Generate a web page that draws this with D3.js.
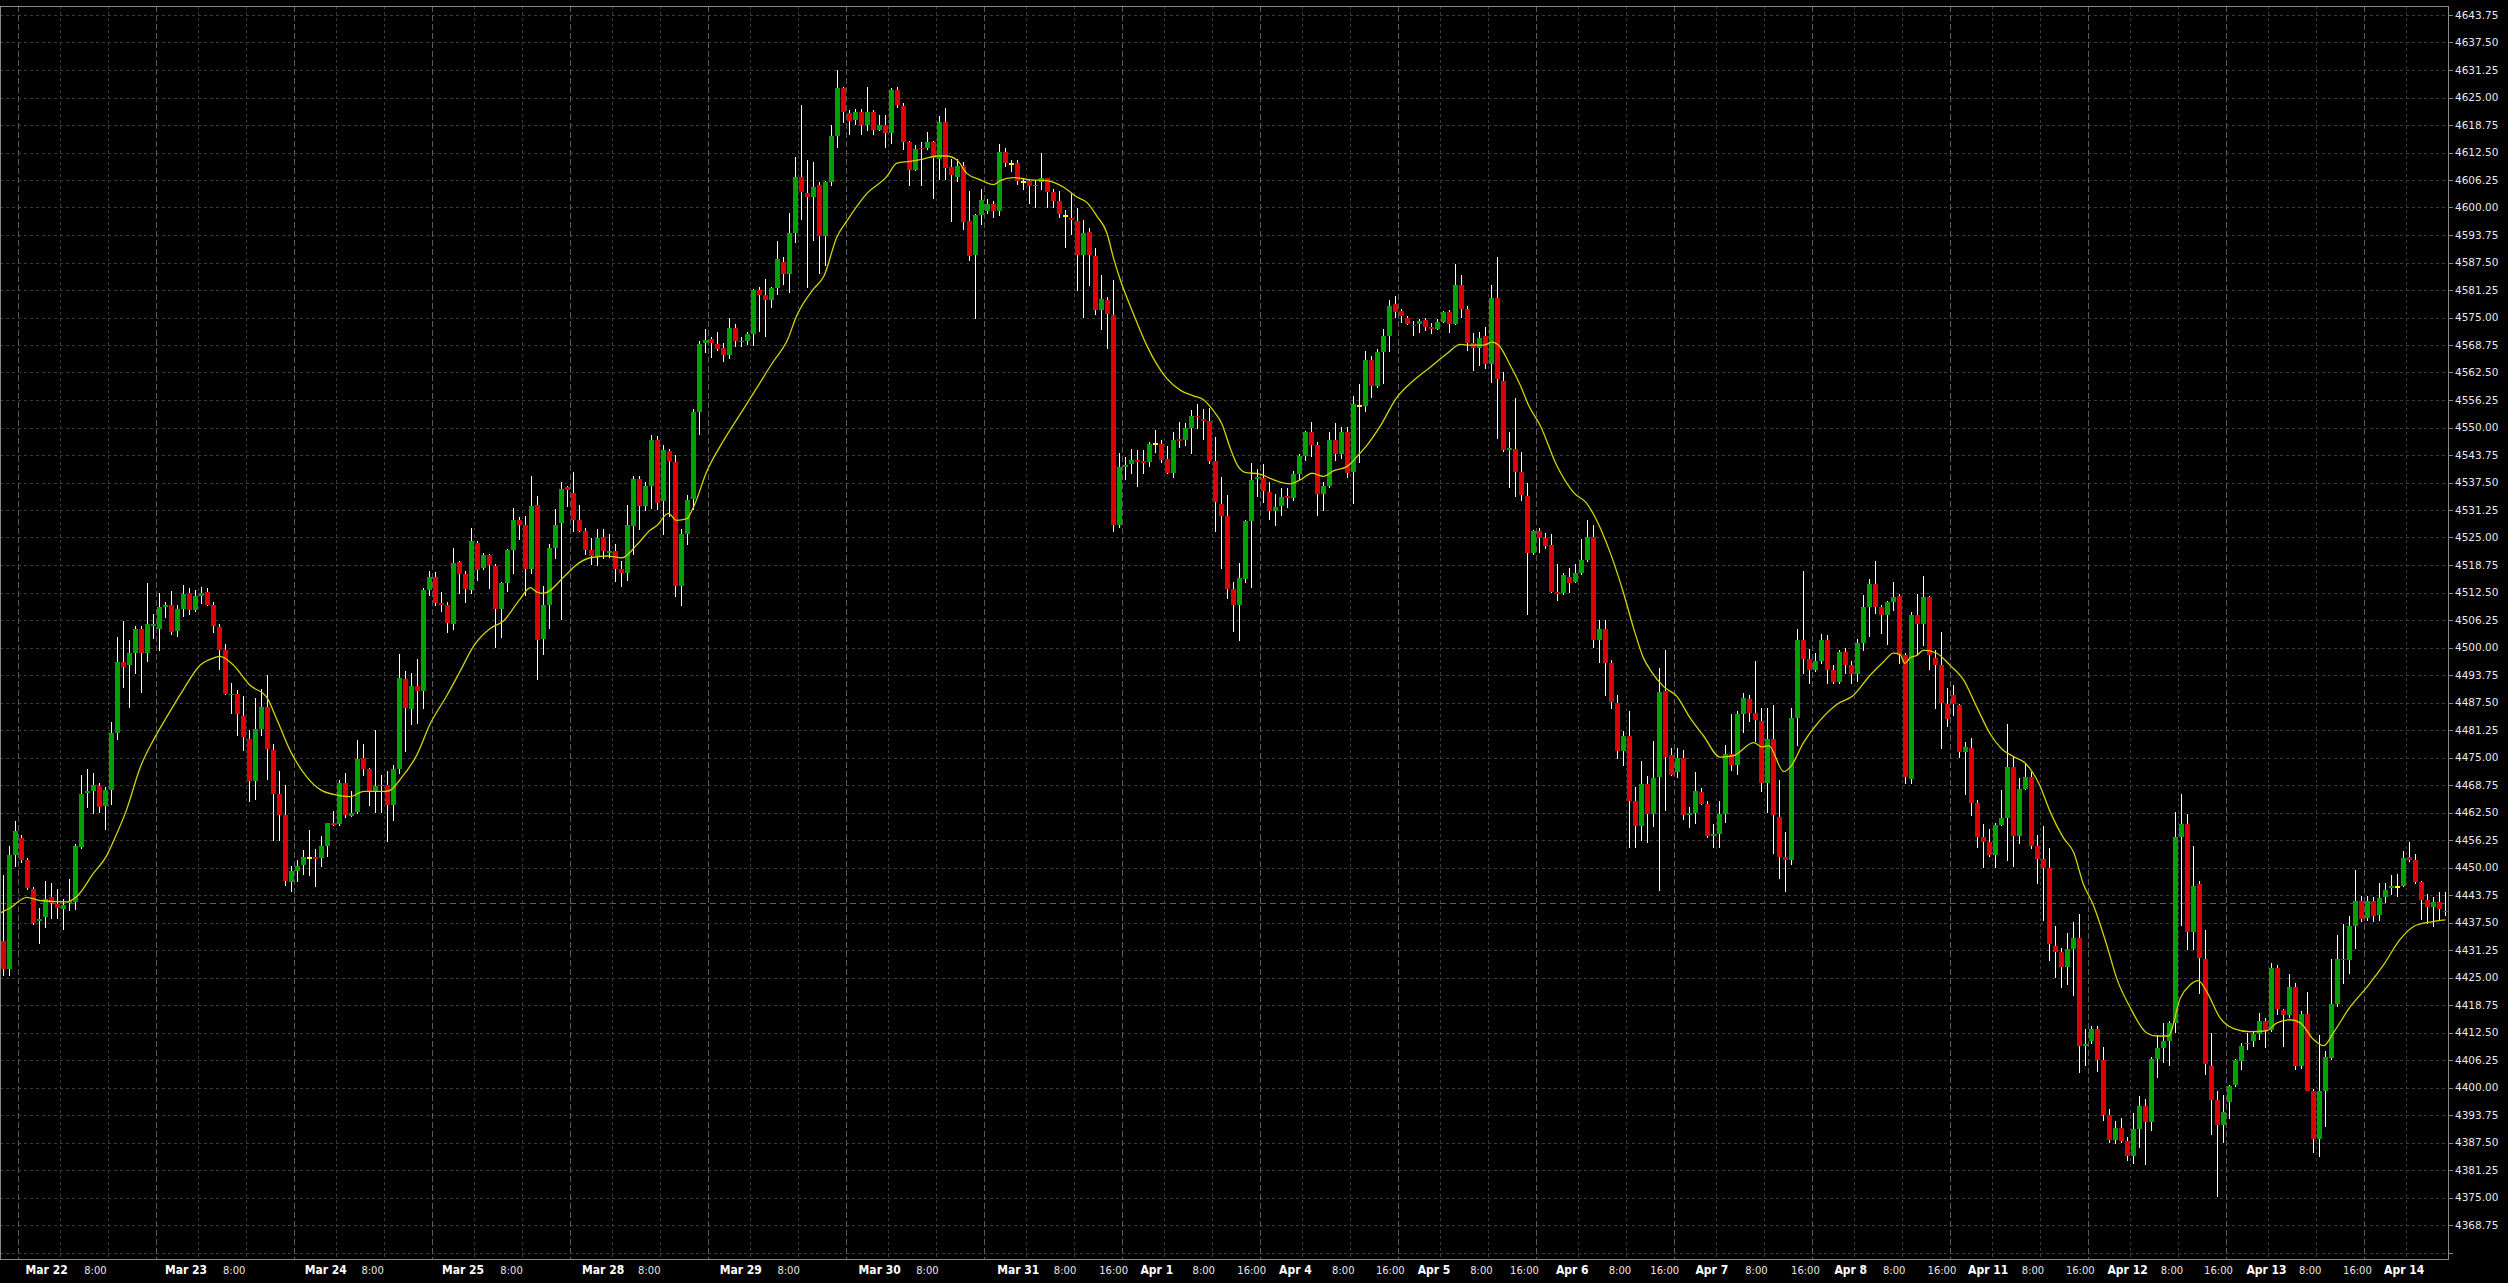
<!DOCTYPE html>
<html><head><meta charset="utf-8">
<script src="https://cdn.jsdelivr.net/npm/d3@7"></script>
<style>html,body{margin:0;padding:0;background:#000;overflow:hidden}svg{display:block}</style>
</head><body>
<svg id="chart" width="2508" height="1283"></svg>
<script>
// ---------- DATA (H1 bars) ----------
const open=[4433.4,4426.9,4452.9,4456.6,4451.8,4445.1,4437.9,4438.8,4443.3,4441.7,
4440.5,4442.0,4442.2,4454.7,4467.0,4467.3,4468.5,4464.0,4467.7,4480.5,
4496.8,4496.0,4498.8,4504.2,4498.8,4505.0,4504.1,4509.2,4509.7,4503.7,
4508.7,4512.4,4508.5,4511.8,4512.7,4509.7,4504.6,4499.4,4489.1,4489.5,
4484.4,4479.3,4469.6,4481.4,4486.5,4476.8,4466.6,4462.0,4446.6,4449.2,
4450.6,4452.2,4452.4,4452.2,4454.9,4460.1,4459.8,4469.1,4461.7,4462.6,
4475.0,4472.4,4467.5,4468.5,4468.8,4464.2,4472.4,4492.8,4486.1,4491.2,
4490.2,4513.0,4516.1,4510.2,4509.7,4505.3,4519.4,4516.7,4513.0,4523.8,
4518.0,4521.1,4518.5,4508.8,4514.7,4522.2,4528.9,4527.9,4517.8,4532.4,
4501.9,4509.7,4522.7,4528.3,4536.4,4535.1,4528.9,4526.4,4522.2,4520.8,
4525.1,4521.5,4522.0,4517.8,4517.0,4527.7,4538.3,4532.2,4536.8,4547.2,
4533.3,4544.7,4542.1,4514.0,4525.8,4533.8,4553.6,4569.1,4570.2,4569.0,
4568.0,4566.4,4572.7,4569.4,4569.7,4571.3,4581.2,4580.1,4578.9,4581.7,
4587.6,4585.0,4594.2,4607.0,4603.4,4602.3,4605.1,4593.5,4605.8,4616.2,
4627.1,4621.4,4619.9,4621.6,4618.8,4621.6,4617.7,4618.8,4616.9,4626.8,
4623.0,4615.0,4608.6,4613.6,4613.6,4614.8,4611.0,4619.5,4609.2,4607.0,
4609.5,4596.9,4589.2,4598.2,4599.1,4600.8,4599.1,4612.7,4609.8,4610.1,
4605.7,4606.1,4604.8,4605.9,4606.6,4603.6,4601.5,4598.1,4597.6,4597.0,
4589.2,4594.5,4588.9,4576.7,4578.9,4575.6,4527.9,4541.1,4541.7,4542.6,
4542.4,4542.2,4546.3,4546.3,4542.8,4539.6,4547.5,4547.2,4549.8,4552.7,
4552.0,4551.5,4542.4,4532.7,4529.8,4513.3,4509.6,4515.6,4528.7,4538.2,
4538.5,4535.3,4531.1,4532.2,4534.4,4533.9,4539.4,4543.5,4548.9,4546.1,
4535.0,4536.7,4547.2,4544.0,4548.9,4540.0,4554.9,4554.9,4565.3,4559.4,
4567.2,4570.7,4578.1,4576.4,4575.0,4573.4,4573.5,4574.4,4572.8,4572.4,
4573.9,4576.2,4573.5,4582.4,4576.9,4569.2,4568.0,4570.8,4564.4,4579.4,
4560.6,4544.9,4545.1,4539.8,4534.5,4521.5,4526.4,4524.8,4523.4,4512.6,
4512.4,4516.0,4514.9,4517.0,4520.0,4525.1,4501.8,4504.3,4496.4,4487.3,
4476.4,4479.9,4465.2,4459.5,4469.0,4462.2,4470.6,4490.1,4475.5,4471.6,
4474.9,4461.9,4462.5,4467.1,4464.5,4457.1,4457.6,4462.2,4475.7,4473.4,
4485.0,4488.3,4485.2,4483.2,4469.3,4479.1,4461.5,4452.4,4451.8,4484.0,
4501.6,4497.5,4494.8,4496.9,4501.6,4494.8,4492.1,4499.0,4496.0,4493.9,
4501.1,4509.2,4514.4,4509.2,4507.3,4510.4,4511.6,4498.2,4470.1,4507.3,
4505.3,4511.4,4497.7,4496.0,4487.1,4489.1,4486.9,4476.3,4477.2,4464.7,
4457.0,4455.8,4452.8,4459.6,4461.2,4472.9,4457.1,4467.9,4470.6,4454.8,
4451.9,4449.9,4432.1,4430.7,4427.5,4431.5,4433.9,4409.5,4410.5,4413.4,
4406.2,4393.7,4388.1,4390.7,4387.8,4384.5,4390.5,4395.7,4392.2,4406.5,
4409.0,4410.5,4414.7,4457.0,4459.8,4435.4,4446.3,4429.2,4405.0,4397.2,
4391.5,4396.6,4400.6,4406.0,4409.8,4410.5,4412.1,4415.1,4413.1,4427.2,
4417.6,4416.4,4422.8,4404.8,4416.6,4399.3,4388.3,4399.1,4406.8,4419.0,
4429.2,4428.9,4436.8,4442.5,4438.6,4442.5,4439.3,4443.3,4445.4,4445.5,
4445.7,4452.4,4451.6,4446.6,4442.7,4441.0,4442.2,4440.2];
const high=[4448.4,4454.8,4460.6,4457.5,4452.2,4445.5,4440.8,4447.0,4446.4,4445.1,
4442.9,4447.3,4455.4,4471.0,4472.4,4471.4,4469.1,4468.2,4483.0,4502.4,
4506.0,4501.6,4504.8,4504.8,4514.6,4507.6,4512.4,4510.4,4512.9,4509.6,
4514.1,4513.6,4513.0,4513.8,4513.6,4510.4,4505.3,4500.9,4492.0,4490.4,
4488.9,4481.2,4488.6,4490.6,4493.7,4478.1,4471.9,4468.7,4450.3,4451.8,
4454.0,4458.5,4454.3,4457.1,4460.1,4462.9,4470.0,4471.4,4467.3,4478.9,
4478.0,4472.6,4481.2,4471.0,4471.9,4473.3,4498.5,4494.6,4494.2,4497.4,
4513.6,4517.3,4517.1,4512.7,4510.4,4522.6,4519.7,4517.3,4527.1,4524.3,
4521.5,4521.3,4518.9,4515.0,4522.5,4531.7,4529.6,4530.0,4539.0,4534.5,
4514.0,4523.6,4531.5,4537.6,4536.6,4539.8,4532.4,4527.2,4524.8,4527.0,
4527.0,4525.8,4523.6,4519.7,4532.4,4539.0,4539.0,4537.6,4548.4,4548.0,
4546.1,4545.2,4543.7,4527.0,4534.7,4554.1,4569.7,4572.3,4570.6,4571.6,
4569.2,4574.9,4573.5,4570.5,4571.6,4581.5,4581.9,4583.8,4582.0,4592.5,
4588.8,4598.8,4611.4,4623.3,4610.8,4610.3,4605.8,4606.0,4618.8,4631.3,
4627.5,4622.1,4622.4,4622.4,4627.5,4622.1,4621.1,4621.1,4627.1,4627.5,
4623.7,4615.2,4614.3,4614.8,4617.1,4615.2,4620.7,4622.6,4611.1,4611.1,
4610.3,4603.7,4598.5,4604.2,4602.0,4601.5,4614.4,4613.5,4610.7,4610.7,
4606.6,4606.3,4606.3,4612.4,4606.8,4604.3,4603.7,4599.4,4603.1,4600.0,
4597.2,4595.4,4590.9,4584.6,4579.6,4583.5,4544.2,4543.4,4545.2,4544.9,
4545.0,4546.8,4549.4,4547.2,4545.9,4548.9,4551.3,4551.1,4553.9,4555.3,
4554.2,4554.4,4547.8,4538.8,4534.6,4515.0,4519.1,4528.9,4542.0,4540.5,
4541.6,4537.6,4535.0,4536.3,4536.2,4540.2,4544.0,4549.2,4551.3,4546.8,
4537.6,4548.9,4551.1,4550.2,4550.2,4557.2,4559.8,4567.5,4566.3,4567.8,
4572.4,4578.9,4580.0,4577.0,4575.3,4574.2,4574.6,4575.0,4573.7,4574.6,
4576.5,4576.8,4587.2,4584.6,4577.6,4571.5,4571.8,4572.8,4582.4,4588.7,
4562.6,4548.9,4556.6,4544.4,4537.3,4526.8,4527.1,4526.1,4525.8,4519.0,
4517.0,4518.0,4519.0,4524.6,4528.9,4527.8,4506.3,4506.3,4497.2,4489.3,
4481.1,4485.5,4468.3,4474.1,4470.8,4478.7,4495.4,4499.5,4477.2,4477.2,
4476.7,4463.7,4471.6,4468.1,4465.2,4459.9,4465.2,4477.9,4484.8,4485.5,
4489.6,4489.3,4497.0,4486.3,4486.3,4486.9,4470.0,4458.1,4486.2,4504.3,
4517.3,4499.7,4498.7,4503.1,4502.9,4496.0,4499.5,4499.8,4497.0,4501.9,
4511.9,4515.5,4519.7,4509.7,4510.6,4514.8,4512.2,4498.7,4508.0,4512.1,
4516.3,4511.7,4499.4,4503.6,4490.9,4491.4,4487.1,4478.5,4479.5,4465.4,
4460.0,4458.8,4460.1,4467.6,4482.7,4475.3,4470.3,4473.8,4471.6,4457.5,
4459.4,4454.4,4436.8,4431.7,4435.1,4437.6,4439.4,4413.4,4413.9,4413.9,
4409.2,4395.2,4392.4,4393.0,4388.7,4394.2,4398.0,4397.4,4407.0,4411.9,
4414.7,4415.1,4462.7,4466.8,4462.2,4454.8,4447.0,4435.8,4412.5,4399.3,
4398.2,4400.6,4406.5,4410.2,4412.5,4412.7,4416.9,4415.9,4428.2,4427.9,
4417.8,4425.7,4423.8,4417.3,4421.8,4399.6,4411.9,4408.2,4429.2,4434.6,
4437.1,4439.0,4449.4,4443.5,4443.5,4443.3,4446.5,4446.5,4448.4,4448.6,
4453.8,4455.8,4453.1,4446.9,4444.0,4443.3,4444.4,4444.4];
const low=[4425.3,4425.3,4450.1,4451.0,4444.9,4436.9,4432.7,4436.2,4438.3,4438.3,
4435.7,4440.1,4440.4,4454.3,4463.6,4462.2,4462.4,4458.6,4464.2,4478.9,
4490.9,4486.3,4493.9,4489.7,4496.7,4502.0,4499.1,4506.7,4502.8,4502.5,
4506.9,4507.4,4508.1,4509.9,4509.5,4503.2,4494.9,4489.1,4484.9,4479.8,
4476.5,4464.9,4465.4,4480.0,4470.0,4456.1,4456.1,4445.7,4444.5,4446.6,
4448.4,4448.1,4445.5,4450.1,4452.4,4459.4,4459.4,4461.2,4461.4,4462.2,
4470.7,4464.0,4462.4,4462.4,4455.7,4460.5,4471.3,4476.3,4482.4,4482.6,
4486.1,4511.8,4509.5,4508.1,4503.2,4503.9,4512.2,4510.2,4512.1,4515.2,
4517.6,4513.4,4500.0,4502.2,4512.6,4516.6,4524.4,4511.6,4516.8,4492.7,
4498.4,4504.3,4520.1,4506.2,4532.0,4526.2,4526.2,4521.1,4518.7,4518.5,
4520.1,4520.4,4514.9,4513.8,4515.1,4521.1,4526.7,4531.0,4531.5,4531.2,
4525.5,4529.6,4511.4,4509.5,4523.4,4531.2,4548.4,4566.9,4565.7,4567.3,
4565.0,4565.5,4568.3,4568.3,4568.8,4568.6,4571.6,4570.6,4577.2,4580.1,
4582.4,4580.5,4591.9,4597.1,4581.8,4592.5,4585.0,4586.7,4604.8,4613.6,
4619.3,4616.4,4618.8,4616.4,4617.4,4616.4,4617.4,4613.6,4614.5,4622.6,
4613.1,4604.8,4608.4,4604.8,4613.1,4602.0,4606.3,4606.3,4596.6,4605.8,
4595.0,4587.8,4574.6,4596.1,4598.5,4597.6,4598.1,4609.2,4608.1,4605.2,
4604.0,4600.7,4600.0,4604.0,4600.0,4600.0,4597.6,4590.7,4593.7,4581.1,
4575.0,4582.2,4575.5,4572.2,4567.9,4526.3,4527.2,4538.1,4539.4,4536.5,
4539.4,4541.1,4544.3,4542.0,4539.4,4538.5,4545.4,4545.7,4544.0,4549.6,
4547.2,4541.6,4526.3,4517.9,4511.0,4503.5,4501.4,4514.6,4513.6,4534.2,
4532.9,4528.9,4527.6,4529.8,4531.6,4533.3,4538.1,4542.4,4543.3,4529.8,
4531.0,4536.2,4542.4,4542.9,4538.5,4532.7,4542.0,4553.6,4556.8,4558.9,
4559.8,4567.2,4575.0,4573.7,4573.3,4570.7,4571.5,4572.0,4571.3,4572.2,
4573.7,4571.5,4573.3,4575.0,4567.5,4562.8,4564.0,4563.2,4560.1,4547.4,
4544.4,4536.3,4534.2,4533.2,4507.5,4521.0,4521.5,4522.4,4512.4,4510.6,
4511.9,4512.4,4514.7,4516.5,4519.5,4500.0,4496.4,4488.9,4486.0,4474.7,
4473.1,4454.4,4454.4,4456.1,4455.6,4459.2,4444.6,4462.9,4470.8,4470.3,
4460.7,4458.9,4459.9,4464.2,4456.6,4454.4,4454.4,4460.2,4472.0,4471.0,
4480.5,4483.0,4478.5,4467.2,4462.5,4453.1,4447.5,4444.4,4450.5,4477.7,
4494.0,4491.6,4494.5,4496.2,4491.6,4491.6,4491.6,4493.9,4491.6,4492.1,
4499.2,4502.5,4507.6,4503.1,4500.5,4508.2,4496.2,4469.0,4469.0,4498.2,
4500.3,4495.0,4486.0,4476.9,4482.0,4484.5,4474.9,4466.5,4461.7,4454.5,
4449.9,4452.4,4449.9,4459.4,4451.4,4450.2,4455.3,4467.6,4454.1,4446.3,
4437.8,4428.7,4424.8,4422.6,4423.3,4420.8,4403.3,4405.0,4409.9,4403.5,
4392.4,4387.3,4387.1,4387.5,4383.4,4382.6,4386.3,4382.4,4390.2,4402.1,
4405.5,4404.8,4412.5,4436.6,4431.2,4431.2,4421.3,4402.9,4389.1,4375.2,
4387.5,4392.9,4400.1,4403.9,4408.5,4409.2,4410.9,4408.9,4412.7,4416.4,
4409.2,4415.9,4403.9,4404.2,4399.1,4385.1,4384.1,4391.0,4406.2,4418.3,
4423.5,4425.7,4431.4,4437.6,4437.8,4437.6,4437.8,4442.0,4443.7,4443.3,
4445.5,4451.2,4446.2,4438.1,4437.1,4436.5,4437.8,4438.9];
const close=[4426.9,4452.9,4458.4,4451.8,4445.3,4437.3,4438.4,4442.9,4441.9,4440.8,
4441.4,4442.4,4454.9,4466.7,4467.5,4468.7,4463.8,4467.7,4480.5,4496.7,
4495.5,4498.8,4504.2,4498.8,4505.3,4505.4,4509.2,4509.7,4503.6,4508.7,
4512.1,4508.5,4511.8,4512.5,4509.7,4504.8,4499.4,4489.5,4489.5,4484.9,
4479.6,4469.6,4481.4,4486.5,4477.0,4466.6,4462.0,4446.9,4449.2,4450.3,
4452.4,4452.2,4452.0,4454.9,4460.1,4459.7,4469.1,4462.0,4462.4,4474.7,
4472.4,4467.5,4468.5,4468.8,4464.2,4472.4,4493.0,4486.3,4491.2,4490.2,
4513.0,4516.1,4510.2,4509.7,4505.5,4519.2,4516.7,4513.2,4524.1,4517.6,
4521.1,4518.7,4508.8,4514.7,4522.2,4528.9,4527.9,4517.8,4532.1,4501.7,
4509.7,4522.7,4527.9,4536.0,4535.9,4528.9,4526.5,4522.2,4520.8,4524.8,
4522.0,4522.0,4517.8,4517.0,4527.9,4538.3,4532.2,4536.8,4547.2,4532.9,
4544.9,4542.5,4514.0,4525.8,4533.5,4553.6,4569.0,4570.0,4569.1,4567.8,
4566.4,4572.7,4569.7,4569.7,4571.3,4581.2,4580.1,4578.9,4581.7,4588.3,
4585.0,4594.2,4607.0,4603.5,4602.3,4604.6,4593.5,4605.8,4616.2,4627.1,
4621.6,4619.7,4621.6,4618.8,4621.6,4617.6,4618.8,4616.9,4626.8,4623.2,
4615.0,4608.6,4613.4,4613.3,4614.8,4611.2,4619.5,4608.9,4607.3,4609.5,
4596.6,4589.0,4598.2,4601.6,4600.8,4599.1,4612.7,4610.2,4609.8,4606.1,
4605.7,4604.8,4605.2,4606.8,4603.6,4601.5,4598.5,4598.1,4597.2,4589.2,
4594.3,4589.2,4576.7,4579.1,4575.9,4527.9,4541.1,4541.4,4542.6,4542.2,
4542.0,4546.3,4546.3,4542.6,4539.6,4547.2,4546.9,4549.8,4552.7,4552.3,
4551.5,4542.4,4533.0,4529.8,4513.3,4509.6,4515.7,4528.7,4538.1,4538.7,
4535.6,4531.1,4532.0,4534.2,4533.9,4539.4,4543.5,4548.9,4546.1,4535.0,
4536.7,4547.2,4544.0,4548.9,4539.6,4555.3,4554.9,4565.3,4559.4,4567.2,
4570.7,4577.6,4576.2,4575.3,4573.5,4573.0,4574.2,4572.8,4572.4,4573.9,
4576.2,4573.5,4582.4,4576.9,4569.2,4568.1,4570.3,4564.4,4579.4,4561.1,
4544.9,4545.4,4539.8,4534.7,4521.5,4526.4,4524.8,4523.1,4512.6,4512.2,
4516.5,4514.7,4517.0,4520.0,4525.1,4501.8,4504.3,4496.4,4487.6,4476.4,
4479.9,4465.2,4459.5,4469.0,4462.2,4470.3,4489.9,4475.2,4471.1,4474.9,
4461.9,4462.4,4467.4,4464.5,4457.1,4457.6,4462.2,4475.7,4473.4,4485.0,
4488.6,4485.2,4483.5,4469.3,4479.1,4461.9,4452.4,4451.8,4484.0,4501.6,
4497.5,4494.8,4496.9,4501.6,4494.8,4492.1,4499.0,4496.0,4493.9,4501.1,
4509.2,4514.4,4509.2,4507.3,4510.4,4511.4,4498.2,4470.6,4507.4,4505.3,
4511.4,4498.2,4496.0,4487.3,4483.8,4487.1,4476.3,4477.4,4464.7,4457.0,
4455.8,4452.8,4459.6,4461.2,4472.9,4457.1,4467.9,4470.6,4454.8,4451.9,
4449.9,4432.6,4430.7,4427.5,4431.5,4433.9,4409.5,4410.0,4413.4,4406.2,
4393.7,4388.1,4390.7,4387.8,4384.5,4390.5,4395.7,4392.2,4406.5,4409.0,
4410.5,4414.7,4457.0,4459.8,4435.4,4445.9,4429.5,4405.3,4397.2,4391.5,
4394.4,4400.3,4406.2,4409.5,4410.2,4412.1,4415.1,4413.1,4427.2,4417.8,
4416.4,4422.8,4404.8,4416.6,4399.3,4388.3,4399.3,4407.0,4419.0,4429.2,
4428.9,4436.8,4442.5,4438.4,4442.5,4439.0,4443.0,4445.0,4445.8,4445.5,
4452.2,4451.6,4446.6,4442.7,4441.0,4442.2,4440.6,4439.9];

// moving-average line at these bar positions
const maIndex=[-0.5,1.1,3.9,6,10.6,12.2,15,17.2,18.3,20.5,22.8,25,27.2,30,32.8,35,36.1,38.3,41.1,43.9,45.6,47.8,50.6,52.8,55,57.8,60,63.3,64.4,66.1,68.9,71.1,73.9,76.1,78.3,81.1,83.3,86.1,87.8,88.9,90,93.3,95.4,97.8,100.6,103.1,105.6,107.8,108.9,110.8,112.2,113.9,115,117.2,120,123.3,125.6,128.3,130.6,132.2,135,136.7,138.9,140.6,143.9,147.2,148.9,151.1,153.3,155.6,157.2,158.9,160.6,162.8,165,166.1,168.3,171.1,173.9,176.7,178.9,180.6,182.2,183.9,185,186.1,188.3,190.6,193.9,196.1,198.3,200,201.7,203.1,204.4,205.8,206.9,209.4,211.7,214.4,216.1,218.1,220,221.7,223.9,226.1,227.2,229.4,232.2,235,237.8,240.6,242.8,244.4,246.7,248.1,249.2,251.1,252.8,254.2,256.1,258.9,261.7,263.9,265.6,267.8,270,271.7,273.3,274.7,276.7,278.9,281.1,283.3,286.1,288.3,291.7,293.1,294.2,296.7,297.8,300,302.8,305.6,308.3,311.1,313.3,315,316.1,316.9,317.8,318.9,320,322.2,324.4,326.7,328.9,331.1,333,335,336.9,339.4,341.1,343.3,345,346.7,348.3,350.6,352.2,354.4,357.2,358.9,360.8,362.8,364.4,365.8,367.2,369.4,371.7,374.4,377.2,378.9,381.1,382.8,385,386.7,388.3,391.1,393.9,396.7,399.4,401.7,404.4,407];
const maValue=[4439.7,4440.8,4443.2,4442.5,4442.2,4443.4,4448.7,4452.7,4455.9,4463.1,4472.8,4479.0,4484.2,4490.5,4496.0,4497.6,4498.0,4496.0,4491.4,4488.6,4483.5,4476.5,4470.5,4467.7,4466.6,4466.1,4467.3,4467.3,4467.5,4470.0,4475.6,4482.6,4489.1,4494.6,4500.2,4504.3,4506.0,4511.0,4513.6,4512.6,4512.3,4515.9,4518.7,4520.4,4520.8,4520.4,4523.4,4526.7,4527.7,4530.5,4528.9,4529.3,4531.9,4540.0,4547.0,4554.1,4559.1,4565.0,4569.7,4575.4,4581.5,4584.3,4593.3,4597.0,4603.2,4607.0,4610.1,4610.5,4611.0,4611.7,4611.7,4610.8,4607.7,4606.3,4605.2,4606.1,4606.8,4606.3,4606.1,4604.6,4602.4,4601.1,4598.1,4594.2,4588.5,4583.7,4575.9,4568.5,4561.1,4558.5,4557.2,4556.3,4553.7,4550.7,4545.5,4541.1,4539.8,4539.4,4538.1,4537.2,4538.1,4539.6,4538.9,4540.2,4541.1,4544.2,4545.9,4550.2,4556.8,4560.7,4563.7,4566.8,4568.9,4568.7,4568.7,4569.4,4568.7,4564.2,4559.6,4555.0,4550.5,4541.3,4535.2,4532.7,4528.7,4521.5,4512.4,4504.3,4497.7,4494.4,4491.1,4488.9,4484.0,4480.0,4475.1,4475.4,4478.4,4477.4,4477.7,4471.8,4472.8,4478.4,4483.5,4487.1,4489.1,4493.7,4496.7,4498.7,4498.4,4496.4,4497.7,4498.2,4499.4,4498.7,4496.0,4492.6,4486.4,4480.4,4477.0,4475.2,4473.8,4468.6,4462.7,4456.8,4453.5,4446.0,4441.5,4432.1,4424.8,4418.3,4412.4,4411.7,4411.7,4420.3,4423.3,4424.3,4421.8,4415.9,4413.4,4412.7,4412.9,4414.7,4415.4,4414.7,4410.9,4409.5,4412.4,4418.3,4422.8,4427.9,4433.6,4436.6,4437.6,4438.1];

const lastPrice=4442.0;
const priceTicks=[4362.5,4368.75,4375,4381.25,4387.5,4393.75,4400,4406.25,4412.5,4418.75,4425,4431.25,4437.5,4443.75,4450,4456.25,4462.5,4468.75,4475,4481.25,4487.5,4493.75,4500,4506.25,4512.5,4518.75,4525,4531.25,4537.5,4543.75,4550,4556.25,4562.5,4568.75,4575,4581.25,4587.5,4593.75,4600,4606.25,4612.5,4618.75,4625,4631.25,4637.5,4643.75];
const dayGridBars=[3,26,49,72,95,118,141,164,187,210,233,256,279,302,325,348,371,394];
const hourGridBars=[10,18,33,41,56,64,79,87,102,110,125,133,148,156,171,179,194,202,217,225,240,248,263,271,286,294,309,317,332,340,355,363,378,386,401];
const dayLabels=["Mar 22","Mar 23","Mar 24","Mar 25","Mar 28","Mar 29","Mar 30","Mar 31","Apr 1","Apr 4","Apr 5","Apr 6","Apr 7","Apr 8","Apr 11","Apr 12","Apr 13","Apr 14"];
const dayLabelBars=[3.67,26.9,50.2,73.08,96.42,119.37,142.52,165.62,189.5,212.6,235.7,258.73,282.0,305.15,327.43,350.67,373.82,396.77];
const timeLabels=["8:00","8:00","8:00","8:00","8:00","8:00","8:00","8:00","16:00","8:00","16:00","8:00","16:00","8:00","16:00","8:00","16:00","8:00","16:00","8:00","16:00","8:00","16:00","8:00","16:00","8:00","16:00"];
const timeLabelBars=[13.45,36.58,59.65,82.8,105.77,128.98,152.12,175.05,182.62,198.17,205.63,221.43,228.73,244.45,251.1,267.53,274.47,290.28,297.92,313.25,320.67,336.38,343.73,359.53,366.77,382.58,389.92];

// ---------- DRAWING ----------
const svg=d3.select("#chart");
const plot={left:0,right:2448,top:6,bottom:1259};
const x=d3.scaleLinear().domain([0,407]).range([3.5,2445.5]);
const y=d3.scaleLinear().domain([4368.75,4643.75]).range([1225,15]);

svg.append("rect").attr("width",2508).attr("height",1283).attr("fill","#000");
svg.append("defs").append("clipPath").attr("id","clip").append("rect")
  .attr("x",plot.left).attr("y",plot.top).attr("width",plot.right-plot.left).attr("height",plot.bottom-plot.top);

const grid=svg.append("g").attr("shape-rendering","crispEdges");
grid.selectAll("line.h").data(priceTicks).join("line")
  .attr("x1",plot.left).attr("x2",plot.right)
  .attr("y1",d=>Math.round(y(d))+0.5).attr("y2",d=>Math.round(y(d))+0.5)
  .attr("stroke","#3a3a3a").attr("stroke-dasharray","3,3");
grid.selectAll("line.v").data(hourGridBars).join("line")
  .attr("x1",d=>x(d-0.5)).attr("x2",d=>x(d-0.5))
  .attr("y1",plot.top).attr("y2",plot.bottom)
  .attr("stroke","#3a3a3a").attr("stroke-dasharray","3,3");
grid.selectAll("line.d").data(dayGridBars).join("line")
  .attr("x1",d=>x(d-0.5)).attr("x2",d=>x(d-0.5))
  .attr("y1",plot.top).attr("y2",plot.bottom)
  .attr("stroke","#5a5a5a").attr("stroke-dasharray","6,3");
// last price line
grid.append("line").attr("x1",plot.left).attr("x2",plot.right)
  .attr("y1",Math.round(y(lastPrice))+0.5).attr("y2",Math.round(y(lastPrice))+0.5)
  .attr("stroke","#5f5f5f").attr("stroke-dasharray","6,4");

const bars=d3.range(open.length).map(i=>({i,o:open[i],h:high[i],l:low[i],c:close[i]}));
const cg=svg.append("g").attr("clip-path","url(#clip)").attr("shape-rendering","crispEdges");
cg.selectAll("line.w").data(bars).join("line")
  .attr("x1",d=>x(d.i)).attr("x2",d=>x(d.i))
  .attr("y1",d=>y(Math.max(d.h,d.o,d.c))).attr("y2",d=>y(Math.min(d.l,d.o,d.c)))
  .attr("stroke","#ffffff").attr("stroke-width",1);
cg.selectAll("rect.b").data(bars).join("rect")
  .attr("x",d=>x(d.i)-2.5).attr("width",5)
  .attr("y",d=>d.o===d.c? y(d.o)-1 : y(Math.max(d.o,d.c)))
  .attr("height",d=>d.o===d.c? 2 : Math.max(1,Math.abs(y(d.o)-y(d.c))))
  .attr("fill",d=>d.c>d.o?"#00a000":(d.c<d.o?"#dc0000":"#ffff00"));

const ma=maIndex.map((v,k)=>[v,maValue[k]]);
svg.append("path").attr("clip-path","url(#clip)")
  .attr("d",d3.line().x(d=>x(d[0])).y(d=>y(d[1])).curve(d3.curveMonotoneX)(ma))
  .attr("fill","none").attr("stroke","#d2d200").attr("stroke-width",1.3);

// frame
const fr=svg.append("g").attr("shape-rendering","crispEdges").attr("stroke","#8a8a8a");
fr.append("line").attr("x1",plot.right+0.5).attr("x2",plot.right+0.5).attr("y1",plot.top).attr("y2",plot.bottom+1);
fr.append("line").attr("x1",0).attr("x2",plot.right+1).attr("y1",plot.bottom+0.5).attr("y2",plot.bottom+0.5);
fr.append("line").attr("x1",0.5).attr("x2",0.5).attr("y1",plot.top).attr("y2",plot.bottom);
fr.append("line").attr("x1",0).attr("x2",plot.right+1).attr("y1",plot.top+0.5).attr("y2",plot.top+0.5);
fr.selectAll("line.t").data(priceTicks).join("line")
  .attr("x1",plot.right).attr("x2",plot.right+5)
  .attr("y1",d=>Math.round(y(d))+0.5).attr("y2",d=>Math.round(y(d))+0.5);

// right axis labels
svg.append("g").selectAll("text").data(priceTicks.filter(d=>d>=4368.75)).join("text")
  .attr("x",2455).attr("y",d=>y(d)).attr("dy","0.36em")
  .attr("font-family","DejaVu Sans, Tahoma, sans-serif").attr("font-size","10.5px")
  .attr("fill","#e8e8e8").text(d=>d.toFixed(2));

// bottom axis labels
svg.append("g").selectAll("text").data(dayLabels).join("text")
  .attr("x",(d,k)=>x(dayLabelBars[k])).attr("y",1274)
  .attr("font-family","DejaVu Sans Condensed, DejaVu Sans, sans-serif").attr("font-weight","bold").attr("font-size","12px")
  .attr("fill","#ffffff").text(d=>d);
svg.append("g").selectAll("text").data(timeLabels).join("text")
  .attr("x",(d,k)=>x(timeLabelBars[k])).attr("y",1274)
  .attr("font-family","DejaVu Sans, sans-serif").attr("font-size","10px")
  .attr("fill","#e8e8e8").text(d=>d);
</script>
</body></html>
